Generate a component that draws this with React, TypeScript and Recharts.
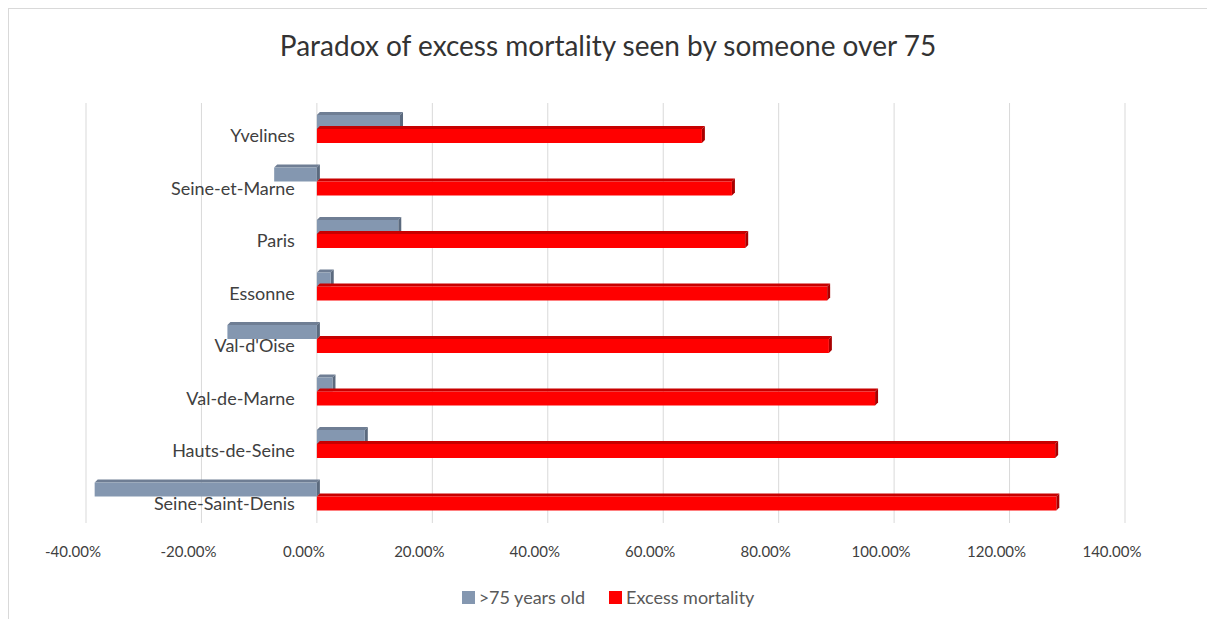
import React from 'react';
import { BarChart, Bar, XAxis, YAxis, CartesianGrid, Legend, LabelList } from 'recharts';

const departments = [
  'Yvelines',
  'Seine-et-Marne',
  'Paris',
  'Essonne',
  "Val-d'Oise",
  'Val-de-Marne',
  'Hauts-de-Seine',
  'Seine-Saint-Denis',
];
const over75 = [14.4, -7.4, 14.1, 2.4, -15.5, 2.7, 8.3, -38.5];
const excessMortality = [66.7, 71.9, 74.2, 88.4, 88.7, 96.7, 127.9, 128.1];
const xTicks = [-40, -20, 0, 20, 40, 60, 80, 100, 120, 140];

const data = departments.map((name, i) => ({
  name,
  over75: over75[i],
  excess: excessMortality[i],
}));

const FONT = 'Lato, "Open Sans", sans-serif';
const TEXT = '#404040';

const GREY = { front: '#8497b0', top: '#6f7e94', side: '#5b6a7e' };
const RED = { front: '#ff0000', top: '#c80000', side: '#a80000' };

// fake Excel-style 3D bar: front face + top face + right side
function make3d(c: { front: string; top: string; side: string }) {
  return (props: any) => {
    const { x, y, width, height } = props;
    if (width == null || height == null) return null;
    const x0 = width < 0 ? x + width : x;
    const w = Math.abs(width);
    const d = 3;
    const top = `${x0},${y} ${x0 + d},${y - d} ${x0 + w + d},${y - d} ${x0 + w},${y}`;
    const side = `${x0 + w},${y} ${x0 + w + d},${y - d} ${x0 + w + d},${y + height - d} ${x0 + w},${y + height}`;
    return (
      <g>
        <polygon points={top} fill={c.top} />
        <polygon points={side} fill={c.side} />
        <rect x={x0} y={y} width={w} height={height} fill={c.front} />
      </g>
    );
  };
}

const XTick = (p: any) => (
  <text
    x={p.x - 13}
    y={p.y}
    dy={20}
    textAnchor="middle"
    dominantBaseline="central"
    fontFamily={FONT}
    fontSize={15}
    fill={TEXT}
  >
    {`${Number(p.payload.value).toFixed(2)}%`}
  </text>
);

const DeptLabel = (p: any) => (
  <text
    x={p.x - 22}
    y={p.y + p.height / 2 - 1}
    textAnchor="end"
    dominantBaseline="central"
    fontFamily={FONT}
    fontSize={18}
    fill={TEXT}
  >
    {p.value}
  </text>
);

const LegendBox = () => (
  <div
    style={{
      display: 'flex',
      justifyContent: 'center',
      alignItems: 'center',
      gap: 24,
      fontFamily: FONT,
      fontSize: 18,
      color: '#595959',
    }}
  >
    <span style={{ display: 'flex', alignItems: 'center' }}>
      <span style={{ width: 13, height: 13, background: GREY.front, marginRight: 4 }} />
      {'>75 years old'}
    </span>
    <span style={{ display: 'flex', alignItems: 'center' }}>
      <span style={{ width: 13, height: 13, background: RED.front, marginRight: 4 }} />
      Excess mortality
    </span>
  </div>
);

export default function App() {
  return (
    <div
      style={{
        position: 'relative',
        width: 1198,
        height: 610,
        borderTop: '1px solid #d9d9d9',
        borderLeft: '1px solid #d9d9d9',
        background: '#fff',
      }}
    >
      <div
        style={{
          position: 'absolute',
          top: 19,
          left: 0,
          width: '100%',
          textAlign: 'center',
          fontFamily: FONT,
          fontSize: 28,
          color: '#333333',
        }}
      >
        Paradox of excess mortality seen by someone over 75
      </div>
      <BarChart
        width={1198}
        height={610}
        data={data}
        layout="vertical"
        margin={{ top: 94, right: 82, bottom: 66, left: 77 }}
        barGap={0}
      >
        <CartesianGrid horizontal={false} stroke="#d9d9d9" />
        <XAxis
          type="number"
          domain={[-40, 140]}
          ticks={xTicks}
          axisLine={false}
          tickLine={false}
          height={30}
          tick={<XTick />}
          interval={0}
        />
        <YAxis type="category" dataKey="name" hide />
        <Legend
          layout="horizontal"
          verticalAlign="middle"
          align="center"
          content={<LegendBox />}
          wrapperStyle={{ top: 577, left: 0, width: 1198 }}
        />
        <Bar
          dataKey="over75"
          name=">75 years old"
          barSize={14}
          fill={GREY.front}
          shape={make3d(GREY)}
          isAnimationActive={false}
        />
        <Bar
          dataKey="excess"
          name="Excess mortality"
          barSize={14}
          fill={RED.front}
          shape={make3d(RED)}
          isAnimationActive={false}
        >
          <LabelList dataKey="name" content={<DeptLabel />} />
        </Bar>
      </BarChart>
    </div>
  );
}
